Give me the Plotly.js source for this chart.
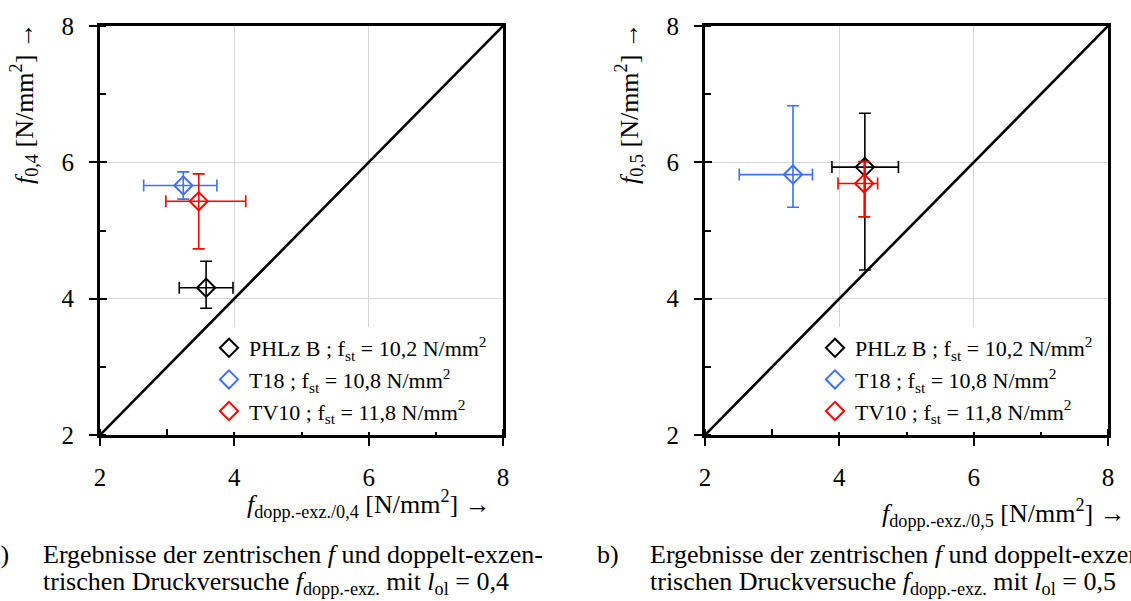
<!DOCTYPE html>
<html>
<head>
<meta charset="utf-8">
<script src="https://cdn.plot.ly/plotly-3.0.1.min.js"></script>
<style>html,body{margin:0;padding:0;background:#fff;}#chart{width:1131px;height:601px;}</style>
</head>
<body>
<div id="chart"></div>
<script>
// ---- Data ----
const seriesNames = ["PHLz B ; f<sub>st</sub> = 10,2 N/mm<sup>2</sup>",
                     "T18 ; f<sub>st</sub> = 10,8 N/mm<sup>2</sup>",
                     "TV10 ; f<sub>st</sub> = 11,8 N/mm<sup>2</sup>"];
const seriesColors = ["#000000", "#3f70f4", "#ff0000"];

// Plot a) l_ol = 0,4 : x = f_dopp.-exz./0,4, y = f_0,4
const a_x      = [3.58, 3.24, 3.47];
const a_y      = [4.16, 5.66, 5.43];
const a_xLow   = [3.18, 2.65, 2.98];
const a_xHigh  = [3.98, 3.74, 4.17];
const a_yLow   = [3.86, 5.46, 4.73];
const a_yHigh  = [4.55, 5.86, 5.83];

// Plot b) l_ol = 0,5 : x = f_dopp.-exz./0,5, y = f_0,5
const b_x      = [4.38, 3.31, 4.37];
const b_y      = [5.93, 5.82, 5.69];
const b_xLow   = [3.89, 2.51, 3.98];
const b_xHigh  = [4.88, 3.60, 4.57];
const b_yLow   = [4.42, 5.34, 5.20];
const b_yHigh  = [6.72, 6.83, 6.01];

const diagonal = [2, 8];
const tickVals = [2, 4, 6, 8];
const tickText = ["2", "4", "6", "8"];

// ---- Build ----
const W = 1131, H = 601;
const px = v => v / W;
const py = v => 1 - v / H;
const FONT = "Liberation Serif";

const traces = [];
function addPanel(xs, ys, xl, xh, yl, yh, xa, ya, leg) {
  traces.push({x: diagonal, y: diagonal, xaxis: xa, yaxis: ya, mode: "lines",
    line: {color: "#000", width: 2.6}, showlegend: false, hoverinfo: "skip"});
  for (let i = 0; i < xs.length; i++) {
    traces.push({
      x: [xs[i]], y: [ys[i]], xaxis: xa, yaxis: ya, legend: leg,
      name: seriesNames[i], mode: "markers", type: "scatter",
      marker: {symbol: "diamond-open", size: 14, color: seriesColors[i], line: {width: 2, color: seriesColors[i]}},
      error_x: {type: "data", symmetric: false, array: [xh[i] - xs[i]], arrayminus: [xs[i] - xl[i]],
                color: seriesColors[i], thickness: 1.6, width: 6},
      error_y: {type: "data", symmetric: false, array: [yh[i] - ys[i]], arrayminus: [ys[i] - yl[i]],
                color: seriesColors[i], thickness: 1.6, width: 6}
    });
  }
}
addPanel(a_x, a_y, a_xLow, a_xHigh, a_yLow, a_yHigh, "x", "y", "legend");
addPanel(b_x, b_y, b_xLow, b_xHigh, b_yLow, b_yHigh, "x2", "y2", "legend2");
// empty traces so the overlay tick axes get drawn
[["x3", "y"], ["x", "y3"], ["x4", "y2"], ["x2", "y4"]].forEach(p =>
  traces.push({x: [], y: [], xaxis: p[0], yaxis: p[1], mode: "markers", showlegend: false, hoverinfo: "skip"}));

function mainAxis(domain, anchor) {
  return {
    domain: domain, anchor: anchor, range: [2, 8], autorange: false,
    tickvals: tickVals, ticktext: tickText,
    ticks: "outside", ticklen: 8, tickwidth: 2, tickcolor: "#000",
    ticklabelstandoff: 10,
    minor: {dtick: 1, tick0: 2, ticks: "inside", ticklen: 6, tickwidth: 2, tickcolor: "#000", showgrid: false},
    showline: true, linewidth: 3, linecolor: "#000", mirror: true,
    showgrid: true, gridcolor: "#d4d4d4", gridwidth: 1,
    zeroline: false, fixedrange: true,
    tickfont: {family: FONT, size: 25, color: "#000"}
  };
}
function innerTicks(overlay, anchor, side) {
  return {overlaying: overlay, anchor: anchor, side: side, range: [2, 8], autorange: false,
    tickvals: tickVals, ticks: "inside", ticklen: 7, tickwidth: 2, tickcolor: "#000",
    showticklabels: false, showgrid: false, showline: false, zeroline: false, fixedrange: true};
}

const xd1 = [px(100), px(503)], xd2 = [px(705), px(1108)], yd = [py(435), py(26)];

const legFont = {family: FONT, size: 22, color: "#000"};
const TF = {family: FONT, size: 26, color: "#000"};
const CF = {family: FONT, size: 26, color: "#000"};
const layout = {
  width: W, height: H, margin: {l: 0, r: 0, t: 0, b: 0},
  paper_bgcolor: "#fff", plot_bgcolor: "#fff",
  font: {family: FONT, color: "#000"},
  xaxis: mainAxis(xd1, "y"),
  yaxis: mainAxis(yd, "x"),
  xaxis2: mainAxis(xd2, "y2"),
  yaxis2: mainAxis(yd, "x2"),
  xaxis3: innerTicks("x", "y", "bottom"),
  yaxis3: innerTicks("y", "x", "left"),
  xaxis4: innerTicks("x2", "y2", "bottom"),
  yaxis4: innerTicks("y2", "x2", "left"),
  legend: {x: px(209), y: py(327), xanchor: "left", yanchor: "top", bgcolor: "#fff",
           font: legFont, itemwidth: 30, tracegroupgap: 0},
  legend2: {x: px(815), y: py(327), xanchor: "left", yanchor: "top", bgcolor: "#fff",
            font: legFont, itemwidth: 30, tracegroupgap: 0},
  annotations: [
    {text: "<i>f</i><sub>0,4</sub> [N/mm<sup>2</sup>] →", textangle: -90, xref: "paper", yref: "paper",
     x: px(24), y: py(103), xanchor: "center", yanchor: "middle", showarrow: false, font: TF},
    {text: "<i>f</i><sub>0,5</sub> [N/mm<sup>2</sup>] →", textangle: -90, xref: "paper", yref: "paper",
     x: px(629), y: py(103), xanchor: "center", yanchor: "middle", showarrow: false, font: TF},
    {text: "<i>f</i><sub>dopp.-exz./0,4</sub> [N/mm<sup>2</sup>] →", xref: "paper", yref: "paper",
     x: px(493), y: py(504), xanchor: "right", yanchor: "middle", showarrow: false, font: TF},
    {text: "<i>f</i><sub>dopp.-exz./0,5</sub> [N/mm<sup>2</sup>] →", xref: "paper", yref: "paper",
     x: px(1128), y: py(513), xanchor: "right", yanchor: "middle", showarrow: false, font: TF},
    {text: "a)", xref: "paper", yref: "paper", x: px(11), y: py(554), xanchor: "right", yanchor: "middle",
     showarrow: false, font: CF},
    {text: "Ergebnisse der zentrischen <i>f</i> und doppelt-exzen-", xref: "paper", yref: "paper",
     x: px(41), y: py(554), xanchor: "left", yanchor: "middle", showarrow: false, font: CF},
    {text: "trischen Druckversuche <i>f</i><sub>dopp.-exz.</sub> mit <i>l</i><sub>ol</sub> = 0,4", xref: "paper", yref: "paper",
     x: px(41), y: py(583), xanchor: "left", yanchor: "middle", showarrow: false, font: CF},
    {text: "b)", xref: "paper", yref: "paper", x: px(621), y: py(554), xanchor: "right", yanchor: "middle",
     showarrow: false, font: CF},
    {text: "Ergebnisse der zentrischen <i>f</i> und doppelt-exzen-", xref: "paper", yref: "paper",
     x: px(648), y: py(554), xanchor: "left", yanchor: "middle", showarrow: false, font: CF},
    {text: "trischen Druckversuche <i>f</i><sub>dopp.-exz.</sub> mit <i>l</i><sub>ol</sub> = 0,5", xref: "paper", yref: "paper",
     x: px(648), y: py(583), xanchor: "left", yanchor: "middle", showarrow: false, font: CF}
  ]
};

Plotly.newPlot("chart", traces, layout, {staticPlot: true, displayModeBar: false});
</script>
</body>
</html>
